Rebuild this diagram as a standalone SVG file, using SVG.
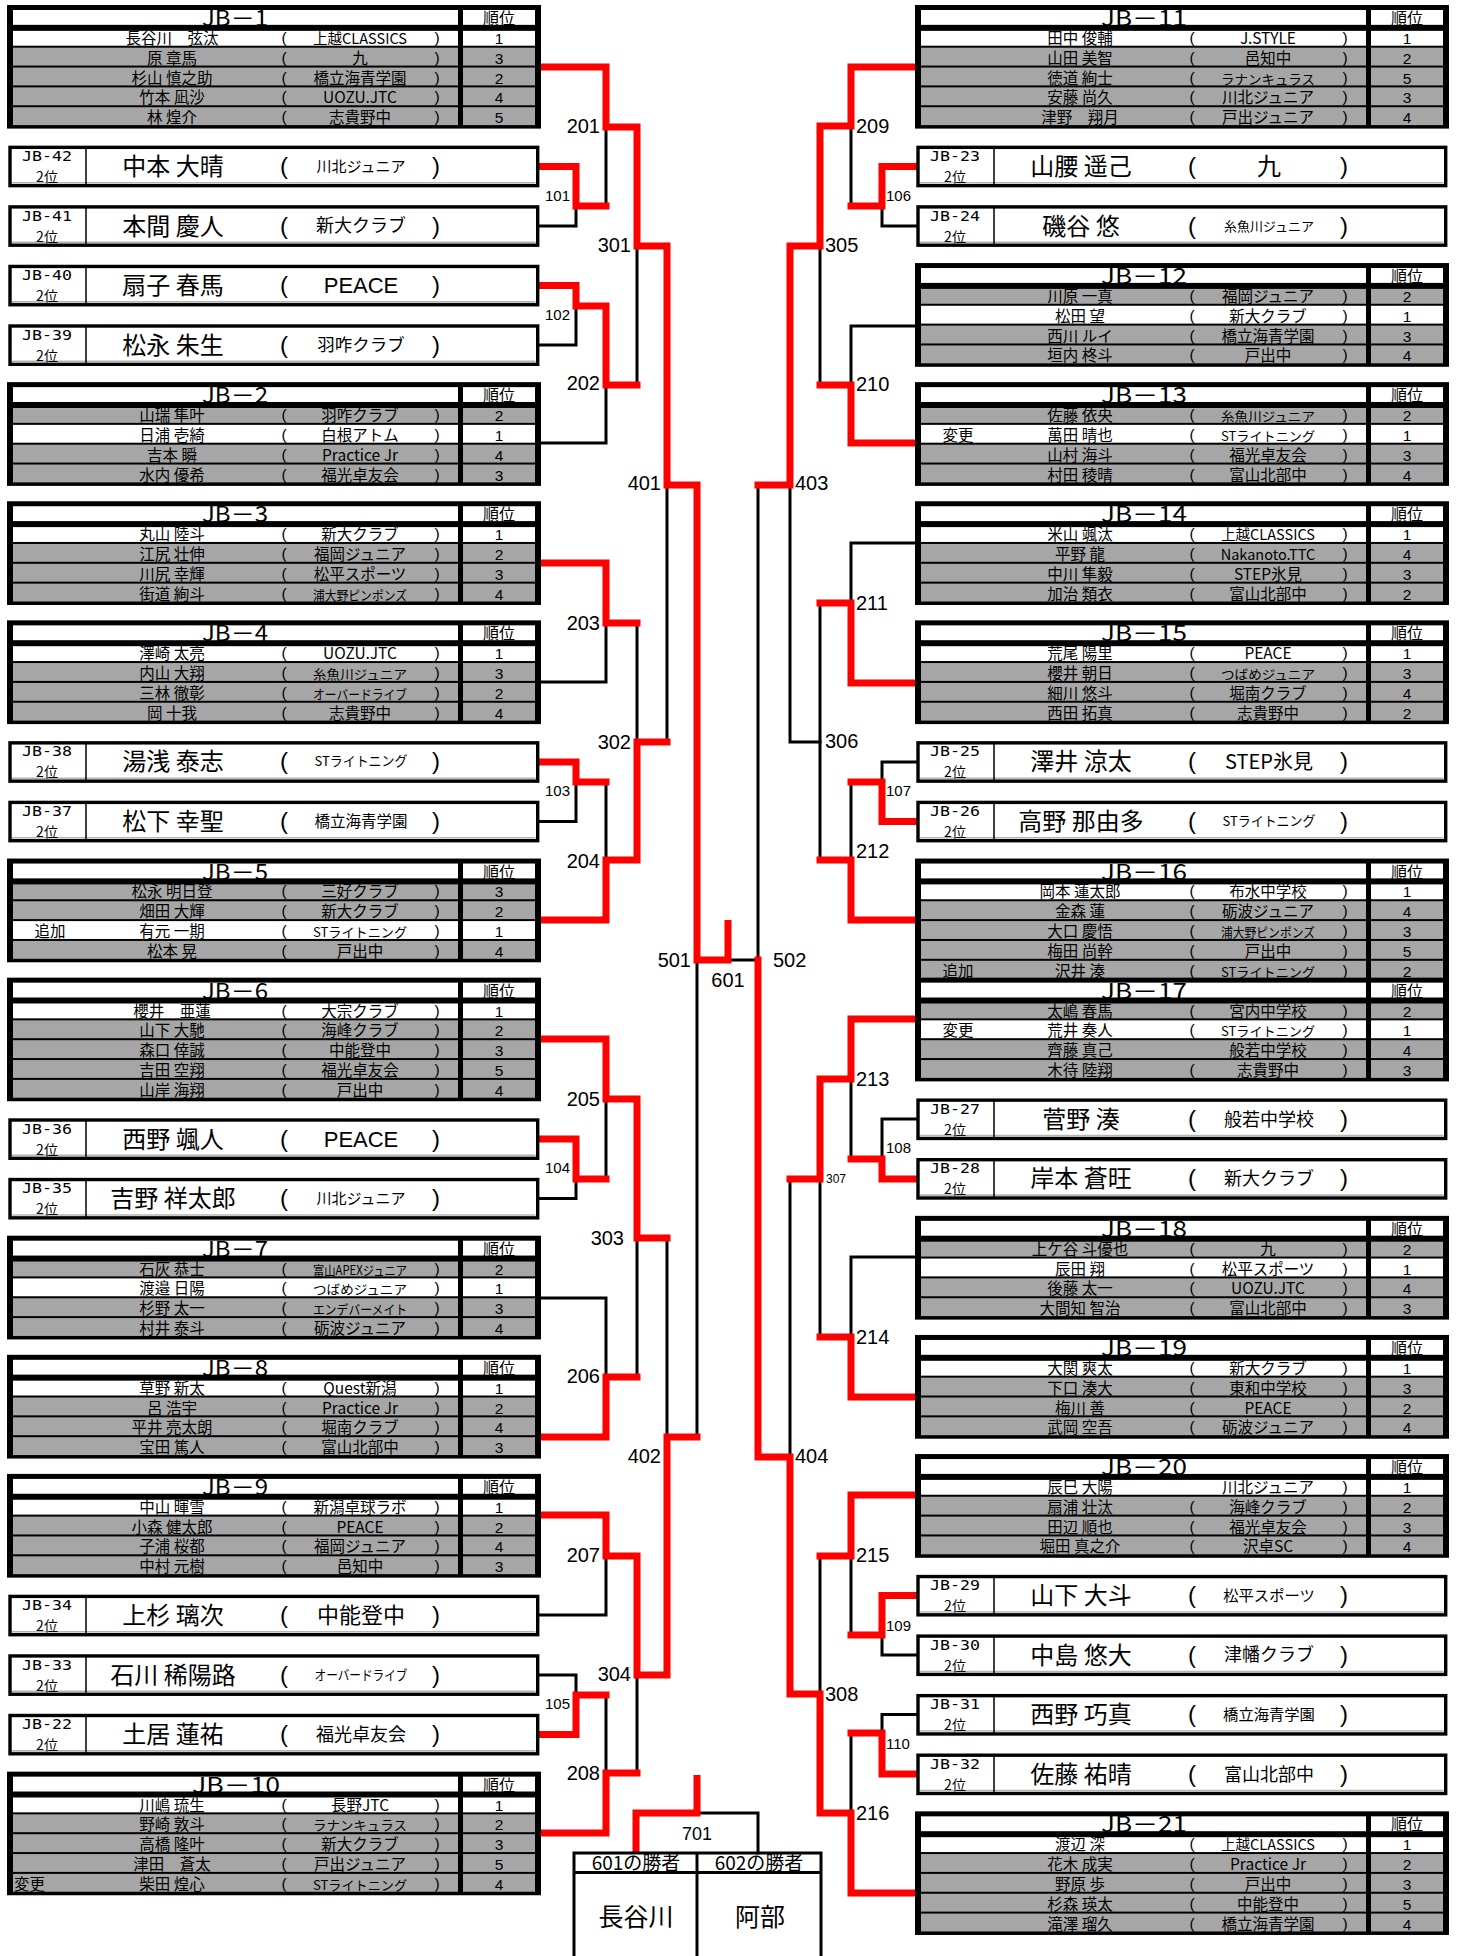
<svg xmlns="http://www.w3.org/2000/svg" width="1461" height="1956" viewBox="0 0 1461 1956">
<defs>
<style>
text{font-family:"Noto Sans CJK JP","Noto Sans CJK SC",sans-serif;fill:#000}
.n{font-size:15.5px;text-anchor:middle}
.t{font-size:15.5px;text-anchor:middle}
.tm{font-size:14.5px;text-anchor:middle}
.ts{font-size:13px;text-anchor:middle}
.p{font-family:"Liberation Sans",Arial,sans-serif;font-size:15.5px;text-anchor:middle}
.r{font-family:"Liberation Sans",Arial,sans-serif;font-size:15.5px;text-anchor:middle}
.h{font-size:22px;text-anchor:middle}
.hr{font-size:16px;text-anchor:middle}
.nt{font-size:15.5px;text-anchor:middle}
.sid{font-family:"DejaVu Sans Mono",monospace;font-size:14px;text-anchor:middle}
.s2{font-size:14px;text-anchor:middle}
.sn{font-size:24px;text-anchor:middle}
.sp{font-family:"Liberation Sans",Arial,sans-serif;font-size:24px;text-anchor:middle}
.st{text-anchor:middle}
.sl{font-family:"Liberation Sans",Arial,sans-serif;font-size:22px;text-anchor:middle}
.red{fill:none;stroke:#ff0000;stroke-width:7;stroke-linecap:square;stroke-linejoin:miter}
.blk{fill:none;stroke:#000;stroke-width:3;stroke-linecap:square}
.lb{font-family:"Liberation Sans",Arial,sans-serif;font-size:20px}
.l1{font-family:"Liberation Sans",Arial,sans-serif;font-size:15px}
.l0{font-family:"Liberation Sans",Arial,sans-serif;font-size:12px}
.e{text-anchor:end}
.m{text-anchor:middle}
.fl{fill:none;stroke:#000;stroke-width:3}
</style>
<g id="f4"><rect x="7" y="0" width="534" height="103.75" fill="#000"/><rect x="13" y="5" width="445" height="14.85" fill="#fff"/><rect x="463" y="5" width="72" height="14.85" fill="#fff"/></g>
<g id="f5"><rect x="7" y="0" width="534" height="123.6" fill="#000"/><rect x="13" y="5" width="445" height="14.85" fill="#fff"/><rect x="463" y="5" width="72" height="14.85" fill="#fff"/></g>
<g id="w1"><rect x="13" y="0" width="445" height="14.85" fill="#fff"/><rect x="463" y="0" width="72" height="14.85" fill="#fff"/></g>
<g id="g1"><rect x="13" y="0" width="445" height="14.85" fill="#a6a6a6"/><rect x="463" y="0" width="72" height="14.85" fill="#a6a6a6"/></g>
<g id="w"><rect x="13" y="0" width="445" height="17.85" fill="#fff"/><rect x="463" y="0" width="72" height="17.85" fill="#fff"/></g>
<g id="g"><rect x="13" y="0" width="445" height="17.85" fill="#a6a6a6"/><rect x="463" y="0" width="72" height="17.85" fill="#a6a6a6"/></g>
<g id="sb"><rect x="10" y="3.4" width="527.7" height="38.3" fill="#fff" stroke="#000" stroke-width="3.4"/><line x1="12" y1="38.8" x2="535.5" y2="38.8" stroke="#b4b4b4" stroke-width="1.6"/><line x1="86" y1="3.4" x2="86" y2="41.7" stroke="#000" stroke-width="1.5"/></g>
</defs>
<rect x="0" y="0" width="1461" height="1956" fill="#fff"/>

<g id="connectors">
<polyline class="blk" points="606,127 606,206"/>
<polyline class="blk" points="539,226 576,226 576,206"/>
<polyline class="blk" points="637,246 637,385"/>
<polyline class="blk" points="539,345 576,345 576,306"/>
<polyline class="blk" points="539,443 606,443 606,385"/>
<polyline class="blk" points="667,485 667,742"/>
<polyline class="blk" points="539,682 606,682 606,623"/>
<polyline class="blk" points="637,623 637,742"/>
<polyline class="blk" points="539,821.5 576,821.5 576,782"/>
<polyline class="blk" points="606,782 606,860"/>
<polyline class="blk" points="697,960 697,1437"/>
<polyline class="blk" points="728,960 758,960"/>
<polyline class="blk" points="606,1099 606,1179"/>
<polyline class="blk" points="539,1198.5 576,1198.5 576,1179"/>
<polyline class="blk" points="637,1238 637,1377"/>
<polyline class="blk" points="539,1298 606,1298 606,1377"/>
<polyline class="blk" points="667,1238 667,1437"/>
<polyline class="blk" points="539,1615 606,1615 606,1556"/>
<polyline class="blk" points="637,1675 637,1773"/>
<polyline class="blk" points="539,1675 576,1675 576,1695"/>
<polyline class="blk" points="606,1695 606,1773"/>
<polyline class="blk" points="697,1813 758,1813 758,1853"/>
<polyline class="blk" points="851,126 851,206"/>
<polyline class="blk" points="918,226 882,226 882,206"/>
<polyline class="blk" points="820,246 820,385"/>
<polyline class="blk" points="918,326 851,326 851,385"/>
<polyline class="blk" points="820,742 790,742 790,485"/>
<polyline class="blk" points="758,485 758,960"/>
<polyline class="blk" points="918,543 851,543 851,603"/>
<polyline class="blk" points="820,603 820,860"/>
<polyline class="blk" points="918,762 882,762 882,782"/>
<polyline class="blk" points="851,782 851,860"/>
<polyline class="blk" points="851,1079 851,1159"/>
<polyline class="blk" points="918,1119 882,1119 882,1159"/>
<polyline class="blk" points="820,1179 820,1337"/>
<polyline class="blk" points="790,1179 790,1457"/>
<polyline class="blk" points="918,1257 851,1257 851,1337"/>
<polyline class="blk" points="851,1556 851,1635"/>
<polyline class="blk" points="918,1655 882,1655 882,1635"/>
<polyline class="blk" points="820,1556 820,1694"/>
<polyline class="blk" points="918,1714.5 882,1714.5 882,1733"/>
<polyline class="blk" points="851,1733 851,1813"/>

<polyline class="red" points="538,67 606,67 606,127 637,127 637,246 667,246 667,485 697,485 697,960 728,960 728,923.5"/>
<polyline class="red" points="538,166.5 576,166.5 576,206 606,206"/>
<polyline class="red" points="538,285.5 576,285.5 576,306 606,306 606,385 637,385"/>
<polyline class="red" points="538,563 606,563 606,623 637,623"/>
<polyline class="red" points="538,920 606,920 606,860 637,860 637,742 667,742"/>
<polyline class="red" points="538,762 576,762 576,782 606,782"/>
<polyline class="red" points="538,1039 606,1039 606,1099 637,1099 637,1238 667,1238"/>
<polyline class="red" points="538,1139 576,1139 576,1179 606,1179"/>
<polyline class="red" points="538,1437 606,1437 606,1377 637,1377"/>
<polyline class="red" points="538,1515 606,1515 606,1556 637,1556 637,1675 667,1675 667,1437 697,1437"/>
<polyline class="red" points="538,1734.5 576,1734.5 576,1695 606,1695"/>
<polyline class="red" points="538,1833 606,1833 606,1773 637,1773"/>
<polyline class="red" points="636,1850.5 636,1813 697,1813 697,1778.5"/>
<polyline class="red" points="918.5,67 851,67 851,126 820,126 820,246 790,246 790,485 758,485"/>
<polyline class="red" points="918.5,166.5 882,166.5 882,206 851,206"/>
<polyline class="red" points="918.5,443 851,443 851,385 820,385"/>
<polyline class="red" points="918.5,683 851,683 851,603 820,603"/>
<polyline class="red" points="918.5,821.5 882,821.5 882,782 851,782"/>
<polyline class="red" points="918.5,920 851,920 851,860 820,860"/>
<polyline class="red" points="918.5,1019 851,1019 851,1079 820,1079 820,1179 790,1179"/>
<polyline class="red" points="918.5,1179 882,1179 882,1159 851,1159"/>
<polyline class="red" points="918.5,1397 851,1397 851,1337 820,1337"/>
<polyline class="red" points="918.5,1495 851,1495 851,1556 820,1556"/>
<polyline class="red" points="918.5,1595.5 882,1595.5 882,1635 851,1635"/>
<polyline class="red" points="918.5,1893 851,1893 851,1813 820,1813 820,1694 790,1694 790,1457 758,1457 758,960"/>
<polyline class="red" points="918.5,1774 882,1774 882,1733 851,1733"/>

<text class="l1 e" x="570" y="201.4">101</text>
<text class="l1 e" x="570" y="320.4">102</text>
<text class="l1 e" x="570" y="796.4">103</text>
<text class="l1 e" x="570" y="1173.4">104</text>
<text class="l1 e" x="570" y="1709.4">105</text>
<text class="lb e" x="600" y="133">201</text>
<text class="lb e" x="600" y="390">202</text>
<text class="lb e" x="600" y="630">203</text>
<text class="lb e" x="600" y="868">204</text>
<text class="lb e" x="600" y="1106">205</text>
<text class="lb e" x="600" y="1383">206</text>
<text class="lb e" x="600" y="1562">207</text>
<text class="lb e" x="600" y="1780">208</text>
<text class="lb e" x="631" y="252">301</text>
<text class="lb e" x="631" y="749">302</text>
<text class="lb e" x="624" y="1245">303</text>
<text class="lb e" x="631" y="1681">304</text>
<text class="lb e" x="661" y="490">401</text>
<text class="lb e" x="661" y="1463">402</text>
<text class="lb e" x="691" y="967">501</text>
<text class="lb m" x="728" y="987">601</text>
<text class="lb" x="773" y="967">502</text>
<text class="lb" x="795" y="490">403</text>
<text class="lb" x="795" y="1463">404</text>
<text class="lb" x="825" y="252">305</text>
<text class="lb" x="825" y="748">306</text>
<text class="l0" x="826" y="1183.3">307</text>
<text class="lb" x="825" y="1701">308</text>
<text class="lb" x="856" y="133">209</text>
<text class="lb" x="856" y="391">210</text>
<text class="lb" x="856" y="610">211</text>
<text class="lb" x="856" y="858">212</text>
<text class="lb" x="856" y="1086">213</text>
<text class="lb" x="856" y="1344">214</text>
<text class="lb" x="856" y="1562">215</text>
<text class="lb" x="856" y="1820">216</text>
<text class="l1" x="886" y="201.4">106</text>
<text class="l1" x="886" y="796.4">107</text>
<text class="l1" x="886" y="1153.4">108</text>
<text class="l1" x="886" y="1631.4">109</text>
<text class="l1" x="886" y="1749.4">110</text>
<text class="m" x="697" y="1839.5" style="font-family:'Liberation Sans',Arial,sans-serif;font-size:18px">701</text>
</g>

<!-- LEFT GROUPS -->
<g id="JB-1" transform="translate(0,5)">
<use href="#f5"/><use href="#w1" y="25.85"/><use href="#g" y="42.7"/><use href="#g" y="62.55"/><use href="#g" y="82.4"/><use href="#g" y="102.25"/>
<text class="h" x="235" y="21" textLength="66" lengthAdjust="spacingAndGlyphs">JB－1</text><text class="hr" x="499" y="19">順位</text>
<g transform="translate(0,38.85)"><text class="n" x="172">長谷川　弦汰</text><text class="p" x="284" y="-1">(</text><text class="tm" x="360">上越CLASSICS</text><text class="p" x="437" y="-1">)</text><text class="r" x="499">1</text></g>
<g transform="translate(0,58.7)"><text class="n" x="172">原 章馬</text><text class="p" x="284" y="-1">(</text><text class="t" x="360">九</text><text class="p" x="437" y="-1">)</text><text class="r" x="499">3</text></g>
<g transform="translate(0,78.55)"><text class="n" x="172">杉山 慎之助</text><text class="p" x="284" y="-1">(</text><text class="t" x="360">橋立海青学園</text><text class="p" x="437" y="-1">)</text><text class="r" x="499">2</text></g>
<g transform="translate(0,98.4)"><text class="n" x="172">竹本 凪沙</text><text class="p" x="284" y="-1">(</text><text class="t" x="360">UOZU.JTC</text><text class="p" x="437" y="-1">)</text><text class="r" x="499">4</text></g>
<g transform="translate(0,118.25)"><text class="n" x="172">林 煌介</text><text class="p" x="284" y="-1">(</text><text class="t" x="360">志貴野中</text><text class="p" x="437" y="-1">)</text><text class="r" x="499">5</text></g>
</g>

<g id="JB-42" transform="translate(0,143.95)"><use href="#sb"/><text class="sid" x="47" y="17" textLength="50" lengthAdjust="spacingAndGlyphs">JB-42</text><text class="s2" x="47" y="38">2位</text><text class="sn" x="173" y="31">中本 大晴</text><text class="sp" x="284" y="30">(</text><text class="st" x="361" y="27.7" style="font-size:15px">川北ジュニア</text><text class="sp" x="436" y="30">)</text></g>
<g id="JB-41" transform="translate(0,203.5)"><use href="#sb"/><text class="sid" x="47" y="17" textLength="50" lengthAdjust="spacingAndGlyphs">JB-41</text><text class="s2" x="47" y="38">2位</text><text class="sn" x="173" y="31">本間 慶人</text><text class="sp" x="284" y="30">(</text><text class="st" x="361" y="28.8" style="font-size:18px">新大クラブ</text><text class="sp" x="436" y="30">)</text></g>
<g id="JB-40" transform="translate(0,263.05)"><use href="#sb"/><text class="sid" x="47" y="17" textLength="50" lengthAdjust="spacingAndGlyphs">JB-40</text><text class="s2" x="47" y="38">2位</text><text class="sn" x="173" y="31">扇子 春馬</text><text class="sp" x="284" y="30">(</text><text class="sl" x="361" y="30">PEACE</text><text class="sp" x="436" y="30">)</text></g>
<g id="JB-39" transform="translate(0,322.6)"><use href="#sb"/><text class="sid" x="47" y="17" textLength="50" lengthAdjust="spacingAndGlyphs">JB-39</text><text class="s2" x="47" y="38">2位</text><text class="sn" x="173" y="31">松永 朱生</text><text class="sp" x="284" y="30">(</text><text class="st" x="361" y="28.6" style="font-size:17.5px">羽咋クラブ</text><text class="sp" x="436" y="30">)</text></g>

<g id="JB-2" transform="translate(0,382.15)">
<use href="#f4"/><use href="#g1" y="25.85"/><use href="#w" y="42.7"/><use href="#g" y="62.55"/><use href="#g" y="82.4"/>
<text class="h" x="235" y="21" textLength="66" lengthAdjust="spacingAndGlyphs">JB－2</text><text class="hr" x="499" y="19">順位</text>
<g transform="translate(0,38.85)"><text class="n" x="172">山瑞 隼叶</text><text class="p" x="284" y="-1">(</text><text class="t" x="360">羽咋クラブ</text><text class="p" x="437" y="-1">)</text><text class="r" x="499">2</text></g>
<g transform="translate(0,58.7)"><text class="n" x="172">日浦 壱綺</text><text class="p" x="284" y="-1">(</text><text class="t" x="360">白根アトム</text><text class="p" x="437" y="-1">)</text><text class="r" x="499">1</text></g>
<g transform="translate(0,78.55)"><text class="n" x="172">吉本 瞬</text><text class="p" x="284" y="-1">(</text><text class="t" x="360">Practice Jr</text><text class="p" x="437" y="-1">)</text><text class="r" x="499">4</text></g>
<g transform="translate(0,98.4)"><text class="n" x="172">水内 優希</text><text class="p" x="284" y="-1">(</text><text class="t" x="360">福光卓友会</text><text class="p" x="437" y="-1">)</text><text class="r" x="499">3</text></g>
</g>

<g id="JB-3" transform="translate(0,501.25)">
<use href="#f4"/><use href="#w1" y="25.85"/><use href="#g" y="42.7"/><use href="#g" y="62.55"/><use href="#g" y="82.4"/>
<text class="h" x="235" y="21" textLength="66" lengthAdjust="spacingAndGlyphs">JB－3</text><text class="hr" x="499" y="19">順位</text>
<g transform="translate(0,38.85)"><text class="n" x="172">丸山 陸斗</text><text class="p" x="284" y="-1">(</text><text class="t" x="360">新大クラブ</text><text class="p" x="437" y="-1">)</text><text class="r" x="499">1</text></g>
<g transform="translate(0,58.7)"><text class="n" x="172">江尻 壮伸</text><text class="p" x="284" y="-1">(</text><text class="t" x="360">福岡ジュニア</text><text class="p" x="437" y="-1">)</text><text class="r" x="499">2</text></g>
<g transform="translate(0,78.55)"><text class="n" x="172">川尻 幸輝</text><text class="p" x="284" y="-1">(</text><text class="t" x="360">松平スポーツ</text><text class="p" x="437" y="-1">)</text><text class="r" x="499">3</text></g>
<g transform="translate(0,98.4)"><text class="n" x="172">街道 絢斗</text><text class="p" x="284" y="-1">(</text><text class="ts" x="360" textLength="94" lengthAdjust="spacingAndGlyphs">浦大野ピンポンズ</text><text class="p" x="437" y="-1">)</text><text class="r" x="499">4</text></g>
</g>

<g id="JB-4" transform="translate(0,620.35)">
<use href="#f4"/><use href="#w1" y="25.85"/><use href="#g" y="42.7"/><use href="#g" y="62.55"/><use href="#g" y="82.4"/>
<text class="h" x="235" y="21" textLength="66" lengthAdjust="spacingAndGlyphs">JB－4</text><text class="hr" x="499" y="19">順位</text>
<g transform="translate(0,38.85)"><text class="n" x="172">澤崎 太亮</text><text class="p" x="284" y="-1">(</text><text class="t" x="360">UOZU.JTC</text><text class="p" x="437" y="-1">)</text><text class="r" x="499">1</text></g>
<g transform="translate(0,58.7)"><text class="n" x="172">内山 大翔</text><text class="p" x="284" y="-1">(</text><text class="ts" x="360" textLength="94" lengthAdjust="spacingAndGlyphs">糸魚川ジュニア</text><text class="p" x="437" y="-1">)</text><text class="r" x="499">3</text></g>
<g transform="translate(0,78.55)"><text class="n" x="172">三林 徹彰</text><text class="p" x="284" y="-1">(</text><text class="ts" x="360" textLength="94" lengthAdjust="spacingAndGlyphs">オーバードライブ</text><text class="p" x="437" y="-1">)</text><text class="r" x="499">2</text></g>
<g transform="translate(0,98.4)"><text class="n" x="172">岡 十我</text><text class="p" x="284" y="-1">(</text><text class="t" x="360">志貴野中</text><text class="p" x="437" y="-1">)</text><text class="r" x="499">4</text></g>
</g>

<g id="JB-38" transform="translate(0,739.45)"><use href="#sb"/><text class="sid" x="47" y="17" textLength="50" lengthAdjust="spacingAndGlyphs">JB-38</text><text class="s2" x="47" y="38">2位</text><text class="sn" x="173" y="31">湯浅 泰志</text><text class="sp" x="284" y="30">(</text><text class="st" x="361" y="27" style="font-size:13.5px" textLength="93" lengthAdjust="spacingAndGlyphs">STライトニング</text><text class="sp" x="436" y="30">)</text></g>
<g id="JB-37" transform="translate(0,799)"><use href="#sb"/><text class="sid" x="47" y="17" textLength="50" lengthAdjust="spacingAndGlyphs">JB-37</text><text class="s2" x="47" y="38">2位</text><text class="sn" x="173" y="31">松下 幸聖</text><text class="sp" x="284" y="30">(</text><text class="st" x="361" y="27.9" style="font-size:15.5px">橋立海青学園</text><text class="sp" x="436" y="30">)</text></g>

<g id="JB-5" transform="translate(0,858.55)">
<use href="#f4"/><use href="#g1" y="25.85"/><use href="#g" y="42.7"/><use href="#w" y="62.55"/><use href="#g" y="82.4"/>
<text class="h" x="235" y="21" textLength="66" lengthAdjust="spacingAndGlyphs">JB－5</text><text class="hr" x="499" y="19">順位</text>
<g transform="translate(0,38.85)"><text class="n" x="172">松永 明日登</text><text class="p" x="284" y="-1">(</text><text class="t" x="360">三好クラブ</text><text class="p" x="437" y="-1">)</text><text class="r" x="499">3</text></g>
<g transform="translate(0,58.7)"><text class="n" x="172">畑田 大輝</text><text class="p" x="284" y="-1">(</text><text class="t" x="360">新大クラブ</text><text class="p" x="437" y="-1">)</text><text class="r" x="499">2</text></g>
<g transform="translate(0,78.55)"><text class="nt" x="50">追加</text><text class="n" x="172">有元 一期</text><text class="p" x="284" y="-1">(</text><text class="ts" x="360" textLength="94" lengthAdjust="spacingAndGlyphs">STライトニング</text><text class="p" x="437" y="-1">)</text><text class="r" x="499">1</text></g>
<g transform="translate(0,98.4)"><text class="n" x="172">松本 晃</text><text class="p" x="284" y="-1">(</text><text class="t" x="360">戸出中</text><text class="p" x="437" y="-1">)</text><text class="r" x="499">4</text></g>
</g>

<g id="JB-6" transform="translate(0,977.65)">
<use href="#f5"/><use href="#w1" y="25.85"/><use href="#g" y="42.7"/><use href="#g" y="62.55"/><use href="#g" y="82.4"/><use href="#g" y="102.25"/>
<text class="h" x="235" y="21" textLength="66" lengthAdjust="spacingAndGlyphs">JB－6</text><text class="hr" x="499" y="19">順位</text>
<g transform="translate(0,38.85)"><text class="n" x="172">櫻井　亜蓮</text><text class="p" x="284" y="-1">(</text><text class="t" x="360">大宗クラブ</text><text class="p" x="437" y="-1">)</text><text class="r" x="499">1</text></g>
<g transform="translate(0,58.7)"><text class="n" x="172">山下 大馳</text><text class="p" x="284" y="-1">(</text><text class="t" x="360">海峰クラブ</text><text class="p" x="437" y="-1">)</text><text class="r" x="499">2</text></g>
<g transform="translate(0,78.55)"><text class="n" x="172">森口 倖誠</text><text class="p" x="284" y="-1">(</text><text class="t" x="360">中能登中</text><text class="p" x="437" y="-1">)</text><text class="r" x="499">3</text></g>
<g transform="translate(0,98.4)"><text class="n" x="172">吉田 空翔</text><text class="p" x="284" y="-1">(</text><text class="t" x="360">福光卓友会</text><text class="p" x="437" y="-1">)</text><text class="r" x="499">5</text></g>
<g transform="translate(0,118.25)"><text class="n" x="172">山岸 海翔</text><text class="p" x="284" y="-1">(</text><text class="t" x="360">戸出中</text><text class="p" x="437" y="-1">)</text><text class="r" x="499">4</text></g>
</g>

<g id="JB-36" transform="translate(0,1116.6)"><use href="#sb"/><text class="sid" x="47" y="17" textLength="50" lengthAdjust="spacingAndGlyphs">JB-36</text><text class="s2" x="47" y="38">2位</text><text class="sn" x="173" y="31">西野 颯人</text><text class="sp" x="284" y="30">(</text><text class="sl" x="361" y="30">PEACE</text><text class="sp" x="436" y="30">)</text></g>
<g id="JB-35" transform="translate(0,1176.15)"><use href="#sb"/><text class="sid" x="47" y="17" textLength="50" lengthAdjust="spacingAndGlyphs">JB-35</text><text class="s2" x="47" y="38">2位</text><text class="sn" x="173" y="31">吉野 祥太郎</text><text class="sp" x="284" y="30">(</text><text class="st" x="361" y="27.7" style="font-size:15px">川北ジュニア</text><text class="sp" x="436" y="30">)</text></g>

<g id="JB-7" transform="translate(0,1235.7)">
<use href="#f4"/><use href="#g1" y="25.85"/><use href="#w" y="42.7"/><use href="#g" y="62.55"/><use href="#g" y="82.4"/>
<text class="h" x="235" y="21" textLength="66" lengthAdjust="spacingAndGlyphs">JB－7</text><text class="hr" x="499" y="19">順位</text>
<g transform="translate(0,38.85)"><text class="n" x="172">石灰 恭士</text><text class="p" x="284" y="-1">(</text><text class="ts" x="360" textLength="94" lengthAdjust="spacingAndGlyphs">富山APEXジュニア</text><text class="p" x="437" y="-1">)</text><text class="r" x="499">2</text></g>
<g transform="translate(0,58.7)"><text class="n" x="172">渡邉 日陽</text><text class="p" x="284" y="-1">(</text><text class="ts" x="360" textLength="94" lengthAdjust="spacingAndGlyphs">つばめジュニア</text><text class="p" x="437" y="-1">)</text><text class="r" x="499">1</text></g>
<g transform="translate(0,78.55)"><text class="n" x="172">杉野 太一</text><text class="p" x="284" y="-1">(</text><text class="ts" x="360" textLength="94" lengthAdjust="spacingAndGlyphs">エンデバーメイト</text><text class="p" x="437" y="-1">)</text><text class="r" x="499">3</text></g>
<g transform="translate(0,98.4)"><text class="n" x="172">村井 泰斗</text><text class="p" x="284" y="-1">(</text><text class="t" x="360">砺波ジュニア</text><text class="p" x="437" y="-1">)</text><text class="r" x="499">4</text></g>
</g>

<g id="JB-8" transform="translate(0,1354.8)">
<use href="#f4"/><use href="#w1" y="25.85"/><use href="#g" y="42.7"/><use href="#g" y="62.55"/><use href="#g" y="82.4"/>
<text class="h" x="235" y="21" textLength="66" lengthAdjust="spacingAndGlyphs">JB－8</text><text class="hr" x="499" y="19">順位</text>
<g transform="translate(0,38.85)"><text class="n" x="172">草野 新太</text><text class="p" x="284" y="-1">(</text><text class="t" x="360">Quest新潟</text><text class="p" x="437" y="-1">)</text><text class="r" x="499">1</text></g>
<g transform="translate(0,58.7)"><text class="n" x="172">呂 浩宇</text><text class="p" x="284" y="-1">(</text><text class="t" x="360">Practice Jr</text><text class="p" x="437" y="-1">)</text><text class="r" x="499">2</text></g>
<g transform="translate(0,78.55)"><text class="n" x="172">平井 亮太朗</text><text class="p" x="284" y="-1">(</text><text class="t" x="360">堀南クラブ</text><text class="p" x="437" y="-1">)</text><text class="r" x="499">4</text></g>
<g transform="translate(0,98.4)"><text class="n" x="172">宝田 篤人</text><text class="p" x="284" y="-1">(</text><text class="t" x="360">富山北部中</text><text class="p" x="437" y="-1">)</text><text class="r" x="499">3</text></g>
</g>

<g id="JB-9" transform="translate(0,1473.9)">
<use href="#f4"/><use href="#w1" y="25.85"/><use href="#g" y="42.7"/><use href="#g" y="62.55"/><use href="#g" y="82.4"/>
<text class="h" x="235" y="21" textLength="66" lengthAdjust="spacingAndGlyphs">JB－9</text><text class="hr" x="499" y="19">順位</text>
<g transform="translate(0,38.85)"><text class="n" x="172">中山 暉雪</text><text class="p" x="284" y="-1">(</text><text class="t" x="360">新潟卓球ラボ</text><text class="p" x="437" y="-1">)</text><text class="r" x="499">1</text></g>
<g transform="translate(0,58.7)"><text class="n" x="172">小森 健太郎</text><text class="p" x="284" y="-1">(</text><text class="t" x="360">PEACE</text><text class="p" x="437" y="-1">)</text><text class="r" x="499">2</text></g>
<g transform="translate(0,78.55)"><text class="n" x="172">子浦 桜都</text><text class="p" x="284" y="-1">(</text><text class="t" x="360">福岡ジュニア</text><text class="p" x="437" y="-1">)</text><text class="r" x="499">4</text></g>
<g transform="translate(0,98.4)"><text class="n" x="172">中村 元樹</text><text class="p" x="284" y="-1">(</text><text class="t" x="360">邑知中</text><text class="p" x="437" y="-1">)</text><text class="r" x="499">3</text></g>
</g>

<g id="JB-34" transform="translate(0,1593)"><use href="#sb"/><text class="sid" x="47" y="17" textLength="50" lengthAdjust="spacingAndGlyphs">JB-34</text><text class="s2" x="47" y="38">2位</text><text class="sn" x="173" y="31">上杉 璃次</text><text class="sp" x="284" y="30">(</text><text class="st" x="361" y="30.4" style="font-size:22px">中能登中</text><text class="sp" x="436" y="30">)</text></g>
<g id="JB-33" transform="translate(0,1652.55)"><use href="#sb"/><text class="sid" x="47" y="17" textLength="50" lengthAdjust="spacingAndGlyphs">JB-33</text><text class="s2" x="47" y="38">2位</text><text class="sn" x="173" y="31">石川 稀陽路</text><text class="sp" x="284" y="30">(</text><text class="st" x="361" y="27" style="font-size:13.5px" textLength="93" lengthAdjust="spacingAndGlyphs">オーバードライブ</text><text class="sp" x="436" y="30">)</text></g>
<g id="JB-22" transform="translate(0,1712.1)"><use href="#sb"/><text class="sid" x="47" y="17" textLength="50" lengthAdjust="spacingAndGlyphs">JB-22</text><text class="s2" x="47" y="38">2位</text><text class="sn" x="173" y="31">土居 蓮祐</text><text class="sp" x="284" y="30">(</text><text class="st" x="361" y="28.8" style="font-size:18px">福光卓友会</text><text class="sp" x="436" y="30">)</text></g>

<g id="JB-10" transform="translate(0,1771.65)">
<use href="#f5"/><use href="#w1" y="25.85"/><use href="#g" y="42.7"/><use href="#g" y="62.55"/><use href="#g" y="82.4"/><use href="#g" y="102.25"/>
<text class="h" x="236" y="21" textLength="88" lengthAdjust="spacingAndGlyphs">JB－10</text><text class="hr" x="499" y="19">順位</text>
<g transform="translate(0,38.85)"><text class="n" x="172">川嶋 琉生</text><text class="p" x="284" y="-1">(</text><text class="t" x="360">長野JTC</text><text class="p" x="437" y="-1">)</text><text class="r" x="499">1</text></g>
<g transform="translate(0,58.7)"><text class="n" x="172">野崎 敦斗</text><text class="p" x="284" y="-1">(</text><text class="ts" x="360" textLength="94" lengthAdjust="spacingAndGlyphs">ラナンキュラス</text><text class="p" x="437" y="-1">)</text><text class="r" x="499">2</text></g>
<g transform="translate(0,78.55)"><text class="n" x="172">高橋 隆叶</text><text class="p" x="284" y="-1">(</text><text class="t" x="360">新大クラブ</text><text class="p" x="437" y="-1">)</text><text class="r" x="499">3</text></g>
<g transform="translate(0,98.4)"><text class="n" x="172">津田　蒼太</text><text class="p" x="284" y="-1">(</text><text class="t" x="360">戸出ジュニア</text><text class="p" x="437" y="-1">)</text><text class="r" x="499">5</text></g>
<g transform="translate(0,118.25)"><text x="14" style="font-size:15.5px">変更</text><text class="n" x="172">柴田 煌心</text><text class="p" x="284" y="-1">(</text><text class="ts" x="360" textLength="94" lengthAdjust="spacingAndGlyphs">STライトニング</text><text class="p" x="437" y="-1">)</text><text class="r" x="499">4</text></g>
</g>

<!-- RIGHT GROUPS -->
<g id="JB-11" transform="translate(908,5)">
<use href="#f5"/><use href="#w1" y="25.85"/><use href="#g" y="42.7"/><use href="#g" y="62.55"/><use href="#g" y="82.4"/><use href="#g" y="102.25"/>
<text class="h" x="236" y="21" textLength="86" lengthAdjust="spacingAndGlyphs">JB－11</text><text class="hr" x="499" y="19">順位</text>
<g transform="translate(0,38.85)"><text class="n" x="172">田中 俊輔</text><text class="p" x="284" y="-1">(</text><text class="t" x="360">J.STYLE</text><text class="p" x="437" y="-1">)</text><text class="r" x="499">1</text></g>
<g transform="translate(0,58.7)"><text class="n" x="172">山田 美智</text><text class="p" x="284" y="-1">(</text><text class="t" x="360">邑知中</text><text class="p" x="437" y="-1">)</text><text class="r" x="499">2</text></g>
<g transform="translate(0,78.55)"><text class="n" x="172">徳道 絢士</text><text class="p" x="284" y="-1">(</text><text class="ts" x="360" textLength="94" lengthAdjust="spacingAndGlyphs">ラナンキュラス</text><text class="p" x="437" y="-1">)</text><text class="r" x="499">5</text></g>
<g transform="translate(0,98.4)"><text class="n" x="172">安藤 尚久</text><text class="p" x="284" y="-1">(</text><text class="t" x="360">川北ジュニア</text><text class="p" x="437" y="-1">)</text><text class="r" x="499">3</text></g>
<g transform="translate(0,118.25)"><text class="n" x="172">津野　翔月</text><text class="p" x="284" y="-1">(</text><text class="t" x="360">戸出ジュニア</text><text class="p" x="437" y="-1">)</text><text class="r" x="499">4</text></g>
</g>

<g id="JB-23" transform="translate(908,143.95)"><use href="#sb"/><text class="sid" x="47" y="17" textLength="50" lengthAdjust="spacingAndGlyphs">JB-23</text><text class="s2" x="47" y="38">2位</text><text class="sn" x="173" y="31">山腰 遥己</text><text class="sp" x="284" y="30">(</text><text class="st" x="361" y="31.1" style="font-size:24px">九</text><text class="sp" x="436" y="30">)</text></g>
<g id="JB-24" transform="translate(908,203.5)"><use href="#sb"/><text class="sid" x="47" y="17" textLength="50" lengthAdjust="spacingAndGlyphs">JB-24</text><text class="s2" x="47" y="38">2位</text><text class="sn" x="173" y="31">磯谷 悠</text><text class="sp" x="284" y="30">(</text><text class="st" x="361" y="27" style="font-size:13px">糸魚川ジュニア</text><text class="sp" x="436" y="30">)</text></g>

<g id="JB-12" transform="translate(908,263.05)">
<use href="#f4"/><use href="#g1" y="25.85"/><use href="#w" y="42.7"/><use href="#g" y="62.55"/><use href="#g" y="82.4"/>
<text class="h" x="236" y="21" textLength="86" lengthAdjust="spacingAndGlyphs">JB－12</text><text class="hr" x="499" y="19">順位</text>
<g transform="translate(0,38.85)"><text class="n" x="172">川原 一真</text><text class="p" x="284" y="-1">(</text><text class="t" x="360">福岡ジュニア</text><text class="p" x="437" y="-1">)</text><text class="r" x="499">2</text></g>
<g transform="translate(0,58.7)"><text class="n" x="172">松田 望</text><text class="p" x="284" y="-1">(</text><text class="t" x="360">新大クラブ</text><text class="p" x="437" y="-1">)</text><text class="r" x="499">1</text></g>
<g transform="translate(0,78.55)"><text class="n" x="172">西川 ルイ</text><text class="p" x="284" y="-1">(</text><text class="t" x="360">橋立海青学園</text><text class="p" x="437" y="-1">)</text><text class="r" x="499">3</text></g>
<g transform="translate(0,98.4)"><text class="n" x="172">垣内 柊斗</text><text class="p" x="284" y="-1">(</text><text class="t" x="360">戸出中</text><text class="p" x="437" y="-1">)</text><text class="r" x="499">4</text></g>
</g>

<g id="JB-13" transform="translate(908,382.15)">
<use href="#f4"/><use href="#g1" y="25.85"/><use href="#w" y="42.7"/><use href="#g" y="62.55"/><use href="#g" y="82.4"/>
<text class="h" x="236" y="21" textLength="86" lengthAdjust="spacingAndGlyphs">JB－13</text><text class="hr" x="499" y="19">順位</text>
<g transform="translate(0,38.85)"><text class="n" x="172">佐藤 依央</text><text class="p" x="284" y="-1">(</text><text class="ts" x="360" textLength="94" lengthAdjust="spacingAndGlyphs">糸魚川ジュニア</text><text class="p" x="437" y="-1">)</text><text class="r" x="499">2</text></g>
<g transform="translate(0,58.7)"><text class="nt" x="50">変更</text><text class="n" x="172">萬田 晴也</text><text class="p" x="284" y="-1">(</text><text class="ts" x="360" textLength="94" lengthAdjust="spacingAndGlyphs">STライトニング</text><text class="p" x="437" y="-1">)</text><text class="r" x="499">1</text></g>
<g transform="translate(0,78.55)"><text class="n" x="172">山村 海斗</text><text class="p" x="284" y="-1">(</text><text class="t" x="360">福光卓友会</text><text class="p" x="437" y="-1">)</text><text class="r" x="499">3</text></g>
<g transform="translate(0,98.4)"><text class="n" x="172">村田 稜晴</text><text class="p" x="284" y="-1">(</text><text class="t" x="360">富山北部中</text><text class="p" x="437" y="-1">)</text><text class="r" x="499">4</text></g>
</g>

<g id="JB-14" transform="translate(908,501.25)">
<use href="#f4"/><use href="#w1" y="25.85"/><use href="#g" y="42.7"/><use href="#g" y="62.55"/><use href="#g" y="82.4"/>
<text class="h" x="236" y="21" textLength="86" lengthAdjust="spacingAndGlyphs">JB－14</text><text class="hr" x="499" y="19">順位</text>
<g transform="translate(0,38.85)"><text class="n" x="172">米山 颯汰</text><text class="p" x="284" y="-1">(</text><text class="tm" x="360">上越CLASSICS</text><text class="p" x="437" y="-1">)</text><text class="r" x="499">1</text></g>
<g transform="translate(0,58.7)"><text class="n" x="172">平野 龍</text><text class="p" x="284" y="-1">(</text><text class="tm" x="360">Nakanoto.TTC</text><text class="p" x="437" y="-1">)</text><text class="r" x="499">4</text></g>
<g transform="translate(0,78.55)"><text class="n" x="172">中川 隼毅</text><text class="p" x="284" y="-1">(</text><text class="t" x="360">STEP氷見</text><text class="p" x="437" y="-1">)</text><text class="r" x="499">3</text></g>
<g transform="translate(0,98.4)"><text class="n" x="172">加治 類衣</text><text class="p" x="284" y="-1">(</text><text class="t" x="360">富山北部中</text><text class="p" x="437" y="-1">)</text><text class="r" x="499">2</text></g>
</g>

<g id="JB-15" transform="translate(908,620.35)">
<use href="#f4"/><use href="#w1" y="25.85"/><use href="#g" y="42.7"/><use href="#g" y="62.55"/><use href="#g" y="82.4"/>
<text class="h" x="236" y="21" textLength="86" lengthAdjust="spacingAndGlyphs">JB－15</text><text class="hr" x="499" y="19">順位</text>
<g transform="translate(0,38.85)"><text class="n" x="172">荒尾 陽里</text><text class="p" x="284" y="-1">(</text><text class="t" x="360">PEACE</text><text class="p" x="437" y="-1">)</text><text class="r" x="499">1</text></g>
<g transform="translate(0,58.7)"><text class="n" x="172">櫻井 朝日</text><text class="p" x="284" y="-1">(</text><text class="ts" x="360" textLength="94" lengthAdjust="spacingAndGlyphs">つばめジュニア</text><text class="p" x="437" y="-1">)</text><text class="r" x="499">3</text></g>
<g transform="translate(0,78.55)"><text class="n" x="172">細川 悠斗</text><text class="p" x="284" y="-1">(</text><text class="t" x="360">堀南クラブ</text><text class="p" x="437" y="-1">)</text><text class="r" x="499">4</text></g>
<g transform="translate(0,98.4)"><text class="n" x="172">西田 拓真</text><text class="p" x="284" y="-1">(</text><text class="t" x="360">志貴野中</text><text class="p" x="437" y="-1">)</text><text class="r" x="499">2</text></g>
</g>

<g id="JB-25" transform="translate(908,739.45)"><use href="#sb"/><text class="sid" x="47" y="17" textLength="50" lengthAdjust="spacingAndGlyphs">JB-25</text><text class="s2" x="47" y="38">2位</text><text class="sn" x="173" y="31">澤井 涼太</text><text class="sp" x="284" y="30">(</text><text class="st" x="361" y="29.6" style="font-size:20px">STEP氷見</text><text class="sp" x="436" y="30">)</text></g>
<g id="JB-26" transform="translate(908,799)"><use href="#sb"/><text class="sid" x="47" y="17" textLength="50" lengthAdjust="spacingAndGlyphs">JB-26</text><text class="s2" x="47" y="38">2位</text><text class="sn" x="173" y="31">高野 那由多</text><text class="sp" x="284" y="30">(</text><text class="st" x="361" y="27" style="font-size:13.5px" textLength="93" lengthAdjust="spacingAndGlyphs">STライトニング</text><text class="sp" x="436" y="30">)</text></g>

<g id="JB-16" transform="translate(908,858.55)">
<use href="#f5"/><use href="#w1" y="25.85"/><use href="#g" y="42.7"/><use href="#g" y="62.55"/><use href="#g" y="82.4"/><use href="#g" y="102.25"/>
<text class="h" x="236" y="21" textLength="86" lengthAdjust="spacingAndGlyphs">JB－16</text><text class="hr" x="499" y="19">順位</text>
<g transform="translate(0,38.85)"><text class="n" x="172">岡本 蓮太郎</text><text class="p" x="284" y="-1">(</text><text class="t" x="360">布水中学校</text><text class="p" x="437" y="-1">)</text><text class="r" x="499">1</text></g>
<g transform="translate(0,58.7)"><text class="n" x="172">金森 蓮</text><text class="p" x="284" y="-1">(</text><text class="t" x="360">砺波ジュニア</text><text class="p" x="437" y="-1">)</text><text class="r" x="499">4</text></g>
<g transform="translate(0,78.55)"><text class="n" x="172">大口 慶悟</text><text class="p" x="284" y="-1">(</text><text class="ts" x="360" textLength="94" lengthAdjust="spacingAndGlyphs">浦大野ピンポンズ</text><text class="p" x="437" y="-1">)</text><text class="r" x="499">3</text></g>
<g transform="translate(0,98.4)"><text class="n" x="172">梅田 尚幹</text><text class="p" x="284" y="-1">(</text><text class="t" x="360">戸出中</text><text class="p" x="437" y="-1">)</text><text class="r" x="499">5</text></g>
<g transform="translate(0,118.25)"><text class="nt" x="50">追加</text><text class="n" x="172">沢井 湊</text><text class="p" x="284" y="-1">(</text><text class="ts" x="360" textLength="94" lengthAdjust="spacingAndGlyphs">STライトニング</text><text class="p" x="437" y="-1">)</text><text class="r" x="499">2</text></g>
</g>

<g id="JB-17" transform="translate(908,977.65)">
<use href="#f4"/><use href="#g1" y="25.85"/><use href="#w" y="42.7"/><use href="#g" y="62.55"/><use href="#g" y="82.4"/>
<text class="h" x="236" y="21" textLength="86" lengthAdjust="spacingAndGlyphs">JB－17</text><text class="hr" x="499" y="19">順位</text>
<g transform="translate(0,38.85)"><text class="n" x="172">太嶋 春馬</text><text class="p" x="284" y="-1">(</text><text class="t" x="360">宮内中学校</text><text class="p" x="437" y="-1">)</text><text class="r" x="499">2</text></g>
<g transform="translate(0,58.7)"><text class="nt" x="50">変更</text><text class="n" x="172">荒井 奏人</text><text class="p" x="284" y="-1">(</text><text class="ts" x="360" textLength="94" lengthAdjust="spacingAndGlyphs">STライトニング</text><text class="p" x="437" y="-1">)</text><text class="r" x="499">1</text></g>
<g transform="translate(0,78.55)"><text class="n" x="172">齊藤 真己</text><text class="t" x="360">般若中学校</text><text class="p" x="437" y="-1">)</text><text class="r" x="499">4</text></g>
<g transform="translate(0,98.4)"><text class="n" x="172">木待 陸翔</text><text class="p" x="284" y="-1">(</text><text class="t" x="360">志貴野中</text><text class="p" x="437" y="-1">)</text><text class="r" x="499">3</text></g>
</g>

<g id="JB-27" transform="translate(908,1096.75)"><use href="#sb"/><text class="sid" x="47" y="17" textLength="50" lengthAdjust="spacingAndGlyphs">JB-27</text><text class="s2" x="47" y="38">2位</text><text class="sn" x="173" y="31">菅野 湊</text><text class="sp" x="284" y="30">(</text><text class="st" x="361" y="28.8" style="font-size:18px">般若中学校</text><text class="sp" x="436" y="30">)</text></g>
<g id="JB-28" transform="translate(908,1156.3)"><use href="#sb"/><text class="sid" x="47" y="17" textLength="50" lengthAdjust="spacingAndGlyphs">JB-28</text><text class="s2" x="47" y="38">2位</text><text class="sn" x="173" y="31">岸本 蒼旺</text><text class="sp" x="284" y="30">(</text><text class="st" x="361" y="28.8" style="font-size:18px">新大クラブ</text><text class="sp" x="436" y="30">)</text></g>

<g id="JB-18" transform="translate(908,1215.85)">
<use href="#f4"/><use href="#g1" y="25.85"/><use href="#w" y="42.7"/><use href="#g" y="62.55"/><use href="#g" y="82.4"/>
<text class="h" x="236" y="21" textLength="86" lengthAdjust="spacingAndGlyphs">JB－18</text><text class="hr" x="499" y="19">順位</text>
<g transform="translate(0,38.85)"><text class="n" x="172">上ケ谷 斗優也</text><text class="p" x="284" y="-1">(</text><text class="t" x="360">九</text><text class="p" x="437" y="-1">)</text><text class="r" x="499">2</text></g>
<g transform="translate(0,58.7)"><text class="n" x="172">辰田 翔</text><text class="p" x="284" y="-1">(</text><text class="t" x="360">松平スポーツ</text><text class="p" x="437" y="-1">)</text><text class="r" x="499">1</text></g>
<g transform="translate(0,78.55)"><text class="n" x="172">後藤 太一</text><text class="p" x="284" y="-1">(</text><text class="t" x="360">UOZU.JTC</text><text class="p" x="437" y="-1">)</text><text class="r" x="499">4</text></g>
<g transform="translate(0,98.4)"><text class="n" x="172">大間知 智治</text><text class="p" x="284" y="-1">(</text><text class="t" x="360">富山北部中</text><text class="p" x="437" y="-1">)</text><text class="r" x="499">3</text></g>
</g>

<g id="JB-19" transform="translate(908,1334.95)">
<use href="#f4"/><use href="#w1" y="25.85"/><use href="#g" y="42.7"/><use href="#g" y="62.55"/><use href="#g" y="82.4"/>
<text class="h" x="236" y="21" textLength="86" lengthAdjust="spacingAndGlyphs">JB－19</text><text class="hr" x="499" y="19">順位</text>
<g transform="translate(0,38.85)"><text class="n" x="172">大関 爽太</text><text class="p" x="284" y="-1">(</text><text class="t" x="360">新大クラブ</text><text class="p" x="437" y="-1">)</text><text class="r" x="499">1</text></g>
<g transform="translate(0,58.7)"><text class="n" x="172">下口 湊大</text><text class="p" x="284" y="-1">(</text><text class="t" x="360">東和中学校</text><text class="p" x="437" y="-1">)</text><text class="r" x="499">3</text></g>
<g transform="translate(0,78.55)"><text class="n" x="172">梅川 善</text><text class="p" x="284" y="-1">(</text><text class="t" x="360">PEACE</text><text class="p" x="437" y="-1">)</text><text class="r" x="499">2</text></g>
<g transform="translate(0,98.4)"><text class="n" x="172">武岡 空吾</text><text class="p" x="284" y="-1">(</text><text class="t" x="360">砺波ジュニア</text><text class="p" x="437" y="-1">)</text><text class="r" x="499">4</text></g>
</g>

<g id="JB-20" transform="translate(908,1454.05)">
<use href="#f4"/><use href="#w1" y="25.85"/><use href="#g" y="42.7"/><use href="#g" y="62.55"/><use href="#g" y="82.4"/>
<text class="h" x="236" y="21" textLength="86" lengthAdjust="spacingAndGlyphs">JB－20</text><text class="hr" x="499" y="19">順位</text>
<g transform="translate(0,38.85)"><text class="n" x="172">辰巳 大陽</text><text class="t" x="360">川北ジュニア</text><text class="p" x="437" y="-1">)</text><text class="r" x="499">1</text></g>
<g transform="translate(0,58.7)"><text class="n" x="172">扇浦 壮汰</text><text class="p" x="284" y="-1">(</text><text class="t" x="360">海峰クラブ</text><text class="p" x="437" y="-1">)</text><text class="r" x="499">2</text></g>
<g transform="translate(0,78.55)"><text class="n" x="172">田辺 順也</text><text class="p" x="284" y="-1">(</text><text class="t" x="360">福光卓友会</text><text class="p" x="437" y="-1">)</text><text class="r" x="499">3</text></g>
<g transform="translate(0,98.4)"><text class="n" x="172">堀田 真之介</text><text class="p" x="284" y="-1">(</text><text class="t" x="360">沢卓SC</text><text class="p" x="437" y="-1">)</text><text class="r" x="499">4</text></g>
</g>

<g id="JB-29" transform="translate(908,1573.15)"><use href="#sb"/><text class="sid" x="47" y="17" textLength="50" lengthAdjust="spacingAndGlyphs">JB-29</text><text class="s2" x="47" y="38">2位</text><text class="sn" x="173" y="31">山下 大斗</text><text class="sp" x="284" y="30">(</text><text class="st" x="361" y="27.8" style="font-size:15.3px">松平スポーツ</text><text class="sp" x="436" y="30">)</text></g>
<g id="JB-30" transform="translate(908,1632.7)"><use href="#sb"/><text class="sid" x="47" y="17" textLength="50" lengthAdjust="spacingAndGlyphs">JB-30</text><text class="s2" x="47" y="38">2位</text><text class="sn" x="173" y="31">中島 悠大</text><text class="sp" x="284" y="30">(</text><text class="st" x="361" y="28.8" style="font-size:18px">津幡クラブ</text><text class="sp" x="436" y="30">)</text></g>
<g id="JB-31" transform="translate(908,1692.25)"><use href="#sb"/><text class="sid" x="47" y="17" textLength="50" lengthAdjust="spacingAndGlyphs">JB-31</text><text class="s2" x="47" y="38">2位</text><text class="sn" x="173" y="31">西野 巧真</text><text class="sp" x="284" y="30">(</text><text class="st" x="361" y="27.8" style="font-size:15.3px">橋立海青学園</text><text class="sp" x="436" y="30">)</text></g>
<g id="JB-32" transform="translate(908,1751.8)"><use href="#sb"/><text class="sid" x="47" y="17" textLength="50" lengthAdjust="spacingAndGlyphs">JB-32</text><text class="s2" x="47" y="38">2位</text><text class="sn" x="173" y="31">佐藤 祐晴</text><text class="sp" x="284" y="30">(</text><text class="st" x="361" y="28.8" style="font-size:18px">富山北部中</text><text class="sp" x="436" y="30">)</text></g>

<g id="JB-21" transform="translate(908,1811.35)">
<use href="#f5"/><use href="#w1" y="25.85"/><use href="#g" y="42.7"/><use href="#g" y="62.55"/><use href="#g" y="82.4"/><use href="#g" y="102.25"/>
<text class="h" x="236" y="21" textLength="86" lengthAdjust="spacingAndGlyphs">JB－21</text><text class="hr" x="499" y="19">順位</text>
<g transform="translate(0,38.85)"><text class="n" x="172">渡辺 深</text><text class="p" x="284" y="-1">(</text><text class="tm" x="360">上越CLASSICS</text><text class="p" x="437" y="-1">)</text><text class="r" x="499">1</text></g>
<g transform="translate(0,58.7)"><text class="n" x="172">花木 成実</text><text class="p" x="284" y="-1">(</text><text class="t" x="360">Practice Jr</text><text class="p" x="437" y="-1">)</text><text class="r" x="499">2</text></g>
<g transform="translate(0,78.55)"><text class="n" x="172">野原 歩</text><text class="p" x="284" y="-1">(</text><text class="t" x="360">戸出中</text><text class="p" x="437" y="-1">)</text><text class="r" x="499">3</text></g>
<g transform="translate(0,98.4)"><text class="n" x="172">杉森 瑛太</text><text class="p" x="284" y="-1">(</text><text class="t" x="360">中能登中</text><text class="p" x="437" y="-1">)</text><text class="r" x="499">5</text></g>
<g transform="translate(0,118.25)"><text class="n" x="172">滝澤 瑠久</text><text class="p" x="284" y="-1">(</text><text class="t" x="360">橋立海青学園</text><text class="p" x="437" y="-1">)</text><text class="r" x="499">4</text></g>
</g>

<g id="final">
<rect class="fl" x="574" y="1853" width="247" height="120"/>
<line class="fl" x1="574" y1="1872.5" x2="821" y2="1872.5"/>
<line class="fl" x1="697" y1="1853" x2="697" y2="1956"/>
<text class="m" x="636" y="1870" style="font-size:19px">601の勝者</text>
<text class="m" x="759" y="1870" style="font-size:19px">602の勝者</text>
<text class="m" x="636" y="1926" style="font-size:25px">長谷川</text>
<text class="m" x="760" y="1926" style="font-size:25px">阿部</text>
</g>
</svg>
